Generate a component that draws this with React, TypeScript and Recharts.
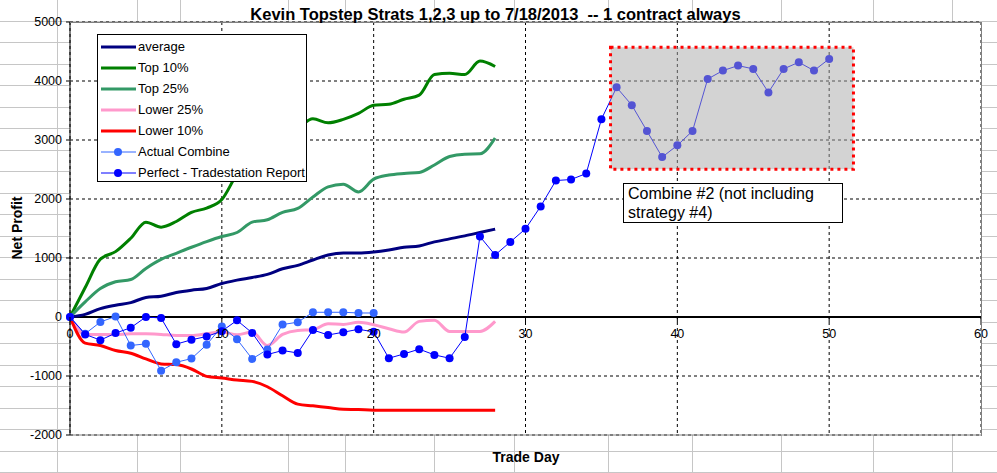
import React from "react";
import {
  LineChart,
  Line,
  XAxis,
  YAxis,
  CartesianGrid,
  ReferenceLine,
  ReferenceArea,
} from "recharts";

// values (trade day 0..50)
const TRADE_DAYS = [
  0, 1, 2, 3, 4, 5, 6, 7, 8, 9, 10, 11, 12, 13, 14, 15, 16, 17, 18, 19, 20, 21, 22, 23, 24, 25,
  26, 27, 28, 29, 30, 31, 32, 33, 34, 35, 36, 37, 38, 39, 40, 41, 42, 43, 44, 45, 46, 47, 48, 49, 50,
];
const AVERAGE = [
  0, 45, 142, 199, 244, 330, 352, 415, 455, 483, 568, 625, 670, 722, 818, 875, 966, 1051, 1085,
  1085, 1102, 1136, 1182, 1205, 1273, 1324, 1375, 1432, 1489,
];
const TOP_10 = [
  0, 500, 980, 1108, 1335, 1608, 1523, 1619, 1773, 1847, 1990, 2420, 2700, 2900, 3050, 3200, 3360,
  3291, 3349, 3451, 3589, 3606, 3691, 3760, 4109, 4131, 4109, 4337, 4246,
];
const TOP_25 = [
  0, 256, 483, 597, 636, 824, 977, 1080, 1182, 1278, 1364, 1432, 1608, 1648, 1773, 1840, 2034,
  2206, 2251, 2120, 2337, 2406, 2434, 2451, 2577, 2720, 2760, 2766, 3034,
];
const LOWER_25 = [
  0, -295, -295, -300, -284, -284, -295, -312, -312, -284, -256, -300, -256, -483, -295, -227,
  -216, -114, -125, -91, -131, -199, -256, -74, -57, -244, -244, -244, -74,
];
const LOWER_10 = [
  0, -443, -483, -568, -614, -710, -795, -807, -881, -1006, -1034, -1068, -1091, -1182, -1335,
  -1477, -1506, -1534, -1563, -1568, -1580, -1580, -1580, -1580, -1580, -1580, -1580, -1580, -1580,
];
const ACTUAL_COMBINE = [
  0, -284, -85, 10, -483, -455, -909, -767, -705, -470, -160, -378, -710, -551, -128, -88, 80, 80,
  80, 68, 68,
];
const PERFECT_REPORT = [
  0, -295, -392, -273, -182, 0, -17, -460, -386, -330, -240, -57, -270, -636, -568, -610, -220,
  -305, -258, -208, -252, -699, -625, -545, -642, -699, -341, 1364, 1051, 1273, 1494, 1875, 2313,
  2330, 2432, 3352, 3892, 3591, 3153, 2710, 2909, 3153, 4034, 4176, 4261, 4205, 3807, 4205, 4318,
  4176, 4375,
];

const X_TICKS = [0, 10, 20, 30, 40, 50, 60];
const Y_TICKS = [-2000, -1000, 0, 1000, 2000, 3000, 4000, 5000];

// shaded "combine #2" region, in data units
const BOX_DAYS = [35.6, 51.6];
const BOX_PROFIT = [2503, 4571];

const TITLE = "Kevin Topstep Strats 1,2,3 up to 7/18/2013  -- 1 contract always";
const NOTE = "Combine #2 (not including strategy #4)";

const SERIES = [
  { key: "average", name: "average", color: "#000080", marker: false },
  { key: "top10", name: "Top 10%", color: "#008000", marker: false },
  { key: "top25", name: "Top 25%", color: "#339966", marker: false },
  { key: "lower25", name: "Lower 25%", color: "#ff99cc", marker: false },
  { key: "lower10", name: "Lower 10%", color: "#ff0000", marker: false },
  { key: "actual", name: "Actual Combine", color: "#3366ff", marker: true },
  { key: "perfect", name: "Perfect - Tradestation Report", color: "#0000ff", marker: true },
];

const data = TRADE_DAYS.map((day, i) => ({
  day,
  average: AVERAGE[i] ?? null,
  top10: TOP_10[i] ?? null,
  top25: TOP_25[i] ?? null,
  lower25: LOWER_25[i] ?? null,
  lower10: LOWER_10[i] ?? null,
  actual: ACTUAL_COMBINE[i] ?? null,
  perfect: PERFECT_REPORT[i] ?? null,
}));

const W = 997;
const H = 473;
const MARGIN = { top: 22, right: 16, bottom: 0, left: 0 };
const Y_AXIS_W = 70;
const X_AXIS_H = 38;
const PLOT_H = H - MARGIN.top - MARGIN.bottom - X_AXIS_H;
const ZERO_Y = MARGIN.top + (PLOT_H * 5000) / 7000;
const FONT = "'Liberation Sans', Arial, sans-serif";

// spreadsheet cells behind the chart object
const SHEET_COLS = [57, 137, 180, 288, 345, 434, 514, 608, 692, 781, 873, 952];
const sheetRows: number[] = [];
for (let y = 20.5; y < H; y += 21.5) sheetRows.push(Math.round(y) + 0.5);

function ZeroTick(props: any) {
  const { x, payload } = props;
  return (
    <g>
      <line x1={x} x2={x} y1={ZERO_Y} y2={ZERO_Y + 5} stroke="#000" />
      <text x={x} y={ZERO_Y + 21} textAnchor="middle" fontSize={12.5} fill="#000" fontFamily={FONT}>
        {payload.value}
      </text>
    </g>
  );
}

function LegendBox() {
  return (
    <div
      style={{
        position: "absolute",
        left: 97,
        top: 34,
        background: "#fff",
        border: "1px solid #000",
        width: 210,
        height: 148,
        boxSizing: "border-box",
        padding: "1px 0 0 0",
        fontFamily: FONT,
        fontSize: 13,
      }}
    >
      {SERIES.map((s) => (
        <div key={s.key} style={{ display: "flex", alignItems: "center", height: 21 }}>
          <svg width={38} height={10} style={{ marginLeft: 3 }}>
            <line x1={0} x2={35} y1={5} y2={5} stroke={s.color} strokeWidth={s.marker ? 1 : 3} />
            {s.marker && <circle cx={17} cy={5} r={4} fill={s.color} />}
          </svg>
          <span style={{ marginLeft: -1, color: "#000" }}>{s.name}</span>
        </div>
      ))}
    </div>
  );
}

export default function App() {
  return (
    <div style={{ position: "fixed", left: 0, top: 0, width: W, height: H, background: "#fff", overflow: "hidden" }}>
      <svg width={W} height={H} style={{ position: "absolute", left: 0, top: 0 }}>
        {SHEET_COLS.map((x) => (
          <line key={"c" + x} x1={x + 0.5} x2={x + 0.5} y1={0} y2={H} stroke="#c6c6c6" />
        ))}
        {sheetRows.map((y) => (
          <line key={"r" + y} x1={0} x2={W} y1={y} y2={y} stroke="#c6c6c6" />
        ))}
      </svg>

      <div style={{ position: "absolute", left: 0, top: 0 }}>
        <LineChart width={W} height={H} data={data} margin={MARGIN}>
          <CartesianGrid fill="#fff" stroke="#000" strokeDasharray="3 3" />
          <XAxis
            dataKey="day"
            type="number"
            domain={[0, 60]}
            ticks={X_TICKS}
            height={X_AXIS_H}
            axisLine={{ stroke: "#808080" }}
            tickLine={false}
            tick={<ZeroTick />}
          />
          <YAxis
            domain={[-2000, 5000]}
            ticks={Y_TICKS}
            width={Y_AXIS_W}
            axisLine={{ stroke: "#000" }}
            tickLine={{ stroke: "#000" }}
            tickSize={4}
            tickMargin={4}
            tick={{ fontSize: 12.5, fill: "#000", fontFamily: FONT }}
            allowDataOverflow
          />
          <ReferenceLine y={0} stroke="#000" strokeWidth={2} />
          {SERIES.map((s) => (
            <Line
              key={s.key}
              dataKey={s.key}
              name={s.name}
              type={s.marker ? "linear" : "monotone"}
              stroke={s.color}
              strokeWidth={s.marker ? 1 : 3}
              dot={s.marker ? { r: 4, fill: s.color, stroke: s.color, strokeWidth: 0 } : false}
              activeDot={false}
              isAnimationActive={false}
            />
          ))}
          <ReferenceArea
            x1={BOX_DAYS[0]}
            x2={BOX_DAYS[1]}
            y1={BOX_PROFIT[0]}
            y2={BOX_PROFIT[1]}
            fill="#a8a8a8"
            fillOpacity={0.5}
            stroke="#ff0000"
            strokeWidth={3}
            strokeDasharray="3 4"
            zIndex={2000}
          />
        </LineChart>
      </div>

      {/* plot frame */}
      <div
        style={{
          position: "absolute",
          left: 70,
          top: MARGIN.top,
          width: W - MARGIN.right - 70 + 1,
          height: PLOT_H + 1,
          borderTop: "1px solid #808080",
          borderRight: "1px solid #808080",
          boxSizing: "border-box",
          pointerEvents: "none",
        }}
      />

      <LegendBox />

      <div
        style={{
          position: "absolute",
          left: 0,
          top: 5,
          width: 991,
          textAlign: "center",
          fontFamily: FONT,
          fontWeight: "bold",
          fontSize: 16.5,
          whiteSpace: "pre",
          lineHeight: "19px",
        }}
      >
        {TITLE}
      </div>

      <div
        style={{
          position: "absolute",
          left: 17,
          top: 228,
          transform: "translate(-50%, -50%) rotate(-90deg)",
          fontFamily: FONT,
          fontWeight: "bold",
          fontSize: 14,
          whiteSpace: "nowrap",
        }}
      >
        Net Profit
      </div>

      <div
        style={{
          position: "absolute",
          left: 526,
          top: 457,
          transform: "translate(-50%, -50%)",
          fontFamily: FONT,
          fontWeight: "bold",
          fontSize: 14,
          whiteSpace: "nowrap",
        }}
      >
        Trade Day
      </div>

      <div
        style={{
          position: "absolute",
          left: 623,
          top: 183,
          width: 220,
          height: 40,
          boxSizing: "border-box",
          border: "1px solid #000",
          background: "#fff",
          fontFamily: FONT,
          fontSize: 16,
          lineHeight: "19px",
          padding: "0 0 0 4px",
          overflow: "hidden",
        }}
      >
        {NOTE}
      </div>
    </div>
  );
}
